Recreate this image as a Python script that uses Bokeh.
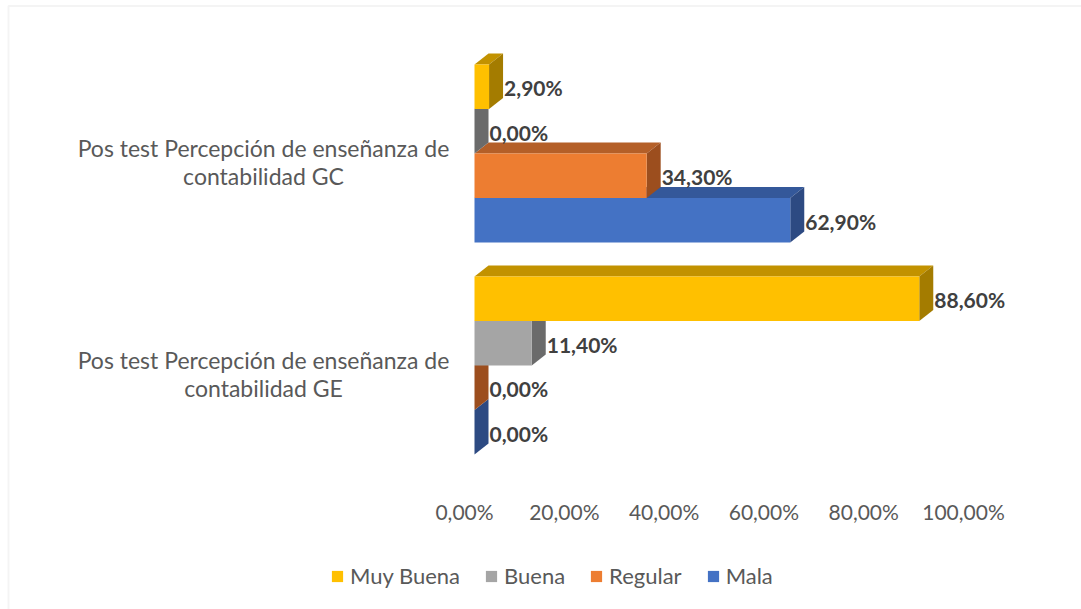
from bokeh.plotting import figure
from bokeh.models import Range1d, ColumnDataSource, Legend, LegendItem, BoxAnnotation
from bokeh.core.properties import value
from bokeh.embed import file_html
from bokeh.resources import INLINE

# ---------------- data ----------------
categories = ["Pos test Percepción de enseñanza de\ncontabilidad GE",
              "Pos test Percepción de enseñanza de\ncontabilidad GC"]
series = ["Muy Buena", "Buena", "Regular", "Mala"]
muy_buena = [88.6, 2.9]
buena = [11.4, 0.0]
regular = [0.0, 34.3]
mala = [0.0, 62.9]
x_ticks = [0, 20, 40, 60, 80, 100]
x_tick_labels = ["0,00%", "20,00%", "40,00%", "60,00%", "80,00%", "100,00%"]

values = {"Muy Buena": muy_buena, "Buena": buena, "Regular": regular, "Mala": mala}
front = {"Muy Buena": "#FFC000", "Buena": "#A5A5A5", "Regular": "#ED7D31", "Mala": "#4472C4"}
top_c = {"Muy Buena": "#C29200", "Buena": "#7E7E7E", "Regular": "#B45F28", "Mala": "#34589A"}
side_c = {"Muy Buena": "#A47C00", "Buena": "#6B6B6B", "Regular": "#9C4E1E", "Mala": "#2D4A82"}

# ---------------- geometry (pixel calibration) ----------------
W, H = 1081, 609
PX0 = 474.0        # pixel of 0 %
SX = 5.02          # pixels per %
PY1 = 153.0        # pixel centre of category index 1
SY = 212.0         # pixels per category
BAR = 0.21         # bar thickness (category units)
DX = 14.0 / SX     # 3D depth in x (data units)
DY = 11.0 / SY     # 3D depth in y (data units)

def dx_px(px):
    return (px - PX0) / SX

def dy_px(py):
    return 1 + (PY1 - py) / SY

p = figure(width=W, height=H, output_backend="svg", toolbar_location=None,
           x_range=Range1d(dx_px(0), dx_px(W)), y_range=Range1d(dy_px(H), dy_px(0)),
           x_axis_location=None, y_axis_location=None, min_border=0)
p.outline_line_color = None
p.background_fill_color = "white"
p.border_fill_color = "white"
p.xgrid.grid_line_color = None
p.ygrid.grid_line_color = None
for g in p.grid:
    g.visible = False

# tick label range (axis labels sit slightly left in the 3D floor)
LX0, LSX = 464.0, 4.99
p.extra_x_ranges["ticks"] = Range1d((0 - LX0) / LSX, (W - LX0) / LSX)

# chart border
p.add_layout(BoxAnnotation(left=dx_px(8), top=dy_px(5.5), right=dx_px(W + 20), bottom=dy_px(H + 20),
                           fill_color=None, fill_alpha=0, line_color="#D9D9D9", line_width=2))

offsets = {"Muy Buena": 1.5 * BAR, "Buena": 0.5 * BAR, "Regular": -0.5 * BAR, "Mala": -1.5 * BAR}
legend_rends = {}
for s in ["Mala", "Regular", "Buena", "Muy Buena"]:
    vals = values[s]
    yc = [i + offsets[s] for i in range(len(vals))]
    yt = [y + BAR / 2 for y in yc]
    yb = [y - BAR / 2 for y in yc]
    tops_x = [[0, v, v + DX, DX] for v in vals]
    tops_y = [[t, t, t + DY, t + DY] for t in yt]
    sides_x = [[v, v, v + DX, v + DX] for v in vals]
    sides_y = [[b, t, t + DY, b + DY] for b, t in zip(yb, yt)]
    p.patches(tops_x, tops_y, fill_color=top_c[s], line_color=None)
    p.patches(sides_x, sides_y, fill_color=side_c[s], line_color=None)
    r = p.quad(left=[0] * len(vals), right=vals, bottom=yb, top=yt,
               fill_color=front[s], line_color=None)
    legend_rends[s] = r
    labels = [f"{v:.2f}%".replace(".", ",") for v in vals]
    src = ColumnDataSource(dict(x=[v + DX for v in vals], y=yc, t=labels))
    p.text(x="x", y="y", text="t", source=src, x_offset=1, y_offset=1,
           text_font=value("Lato"), text_font_style="bold", text_font_size="21px",
           text_color="#404040", text_align="left", text_baseline="middle")

# category labels
csrc = ColumnDataSource(dict(x=[dx_px(263)] * len(categories),
                             y=list(range(len(categories))), t=categories))
p.text(x="x", y="y", text="t", source=csrc, y_offset=8,
       text_font=value("Lato"), text_font_size="23px", text_color="#595959",
       text_align="center", text_baseline="middle", text_line_height=1.0)

# x tick labels
tsrc = ColumnDataSource(dict(x=x_ticks, y=[dy_px(511)] * len(x_ticks), t=x_tick_labels))
p.text(x="x", y="y", text="t", source=tsrc, x_range_name="ticks",
       text_font=value("Lato"), text_font_size="21px", text_color="#595959",
       text_align="center", text_baseline="middle")

legend = Legend(items=[LegendItem(label=s, renderers=[legend_rends[s]]) for s in series],
                orientation="horizontal", location=(330, 20),
                glyph_width=14, glyph_height=14, label_standoff=6, spacing=24,
                padding=5, margin=0, border_line_color=None, background_fill_alpha=0,
                label_text_font="Lato", label_text_font_size="22px", label_text_color="#595959")
p.add_layout(legend)

open("out.html", "w").write(file_html(p, INLINE))
